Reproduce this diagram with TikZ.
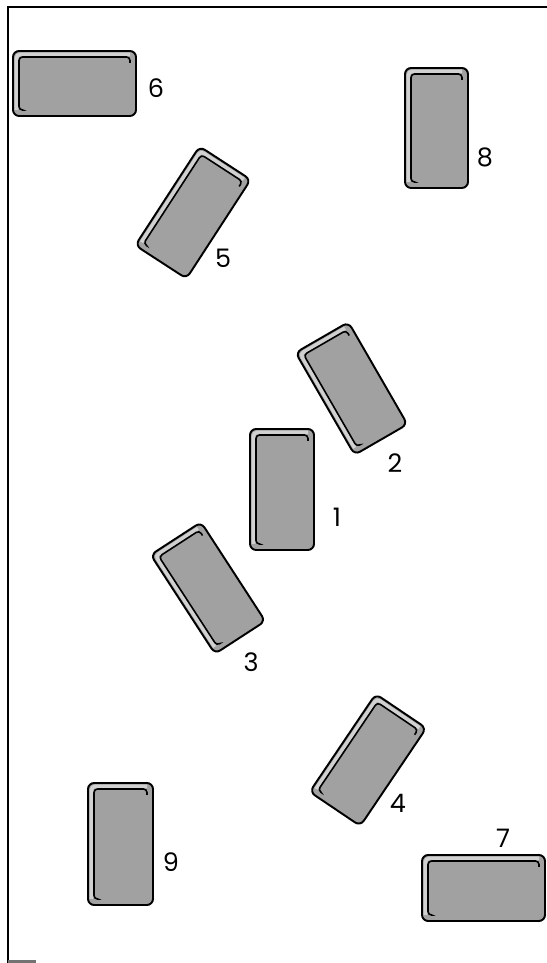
\documentclass[tikz,border=0pt]{standalone}
\usepackage{fontspec}
\setmainfont{Poppins}

\begin{document}
\begin{tikzpicture}[
        x=0.02cm,
        y=0.02cm,
        frame/.style={line width=1.2pt, black},
        card/.style={draw=black, line width=1.1pt, fill=black!37, rounded corners=3.5pt},
        rim/.style={black!18, line width=2pt, rounded corners=2pt},
        inner/.style={black, line width=0.9pt, rounded corners=2pt},
        num/.style={font=\fontsize{14.5}{16}\selectfont, inner sep=0pt}
    ]
        \useasboundingbox (0,0) rectangle (547,963);

        % frame, open at the right
        \draw[frame] (8,0) -- (8,956) -- (547,956);
        \draw[frame, black!55] (8,1.5) -- (36,1.5);

        % the nine cards: centre, turn, half width, half height
        \foreach \name/\x/\y/\ang/\w/\h in {1/282/473.5/0/32/60.5,2/351.5/574.5/30/30.5/59,3/208/375/33/30/59,4/368/203/-34/30.5/59,5/193/750.5/-33/30.5/59,6/74.5/879.5/0/61.5/32.5,7/483.5/75/0/61.5/33,8/436.5/835/0/31.5/60,9/120.5/119/0/32.5/61} {
            \begin{scope}[shift={(\x,\y)}, rotate=\ang]
                \draw[card] (-\w,-\h) rectangle (\w,\h);
                \draw[rim] (-\w+3.5,-\h+6) -- (-\w+3.5,\h-3.5) -- (\w-6,\h-3.5);
                \draw[inner] (-\w+9,-\h+6) -- (-\w+6,-\h+6) -- (-\w+6,\h-6) -- (\w-6,\h-6) -- (\w-6,\h-12);
            \end{scope}
        }

        % card numbers
        \foreach \name/\x/\y in {1/337/446,2/395/500,3/251/301,4/398/160,5/223/705,6/156/875,7/503/125,8/485/806,9/171/101} {
            \node[num] (num\name) at (\x,\y) {\name};
        }
    \end{tikzpicture}
\end{document}
